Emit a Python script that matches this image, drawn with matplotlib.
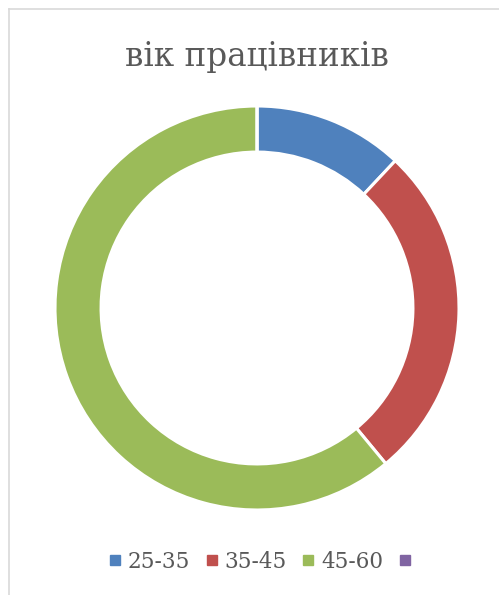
import matplotlib
matplotlib.use("Agg")
import matplotlib.pyplot as plt
from matplotlib.lines import Line2D

categories = ["25-35", "35-45", "45-60", ""]
values = [12, 27, 61, 0]
colors = ["#4F81BD", "#C0504D", "#9BBB59", "#8064A2"]
title = "вік працівників"

fig = plt.figure(figsize=(4.99, 5.95), dpi=100)
fig.patch.set_facecolor("white")

# chart-area frame (top and left edges only are visible)
x0, y0 = 8.5 / 499, 1 - 8.5 / 595
fig.add_artist(Line2D([x0, 1.0], [y0, y0], transform=fig.transFigure,
                      color="#D9D9D9", linewidth=1.2))
fig.add_artist(Line2D([x0, x0], [0, y0], transform=fig.transFigure,
                      color="#D9D9D9", linewidth=1.2))

ax = fig.add_axes([55 / 499, 85 / 595, 404 / 499, 404 / 595])
wedges, _ = ax.pie(values, colors=colors, startangle=90, counterclock=False,
                   radius=1.0,
                   wedgeprops=dict(width=0.228, edgecolor="white", linewidth=2.2))
ax.set_xlim(-1, 1)
ax.set_ylim(-1, 1)
ax.set_aspect("equal")
ax.axis("off")

fig.text(257 / 499, 1 - 57 / 595, title, ha="center", va="center",
         fontsize=23.5, color="#595959", family="DejaVu Serif")

handles = [Line2D([0], [0], marker="s", linestyle="none", markersize=7,
                  markerfacecolor=c, markeredgecolor=c) for c in colors]
fig.legend(handles, categories, loc="center", bbox_to_anchor=(263 / 499, 1 - 562 / 595),
           ncol=4, frameon=False, handlelength=0.6, handletextpad=0.3,
           columnspacing=0.7, prop=dict(family="DejaVu Serif", size=15.5),
           labelcolor="#595959")

fig.savefig("out.png", dpi=100)
